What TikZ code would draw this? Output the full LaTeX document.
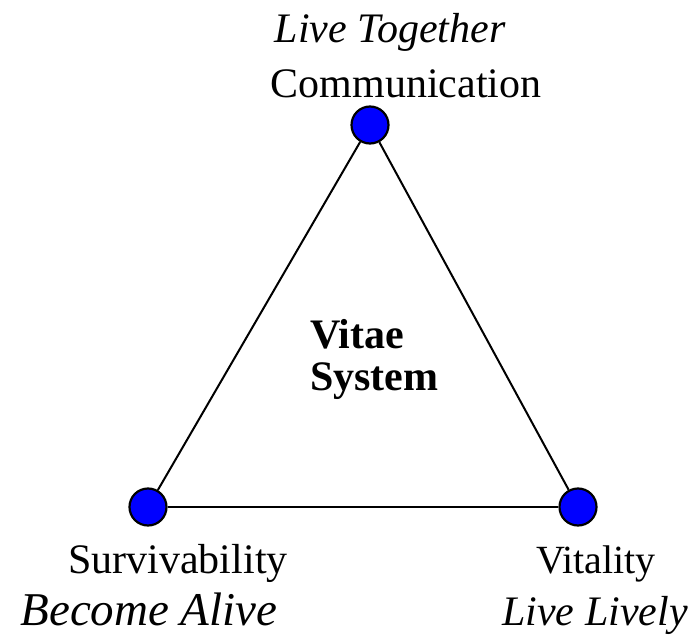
\documentclass[tikz,border=0pt]{standalone}
\usepackage{fontspec}
\setmainfont{Liberation Serif}
\definecolor{dotblue}{RGB}{0,0,255}
\begin{document}
\begin{tikzpicture}[x=1pt,y=-1pt,
  vertex/.style={circle,draw=black,fill=dotblue,line width=2.2pt,minimum size=37pt,inner sep=0pt},
  edge/.style={line width=2pt},
  lbl/.style={anchor=base,inner sep=0pt}]
\useasboundingbox (0,0) rectangle (693,636);
\node[vertex] (top) at (370,125) {};
\node[vertex] (bl) at (148,507) {};
\node[vertex] (br) at (578,507) {};
\draw[edge] (top) -- (bl);
\draw[edge] (top) -- (br);
\draw[edge] (bl) -- (br);
\node[lbl] (lt) at (390,43) {\fontsize{42}{48}\selectfont\itshape Live Together};
\node[lbl] (comm) at (406,98) {\fontsize{42}{48}\selectfont Communication};
\node[lbl,anchor=base west] (vitae) at (310,348) {\fontsize{42}{48}\selectfont\bfseries Vitae};
\node[lbl,anchor=base west] (system) at (310,390) {\fontsize{42}{48}\selectfont\bfseries System};
\node[lbl] (surv) at (178,573) {\fontsize{42}{48}\selectfont Survivability};
\node[lbl] (become) at (149,625) {\fontsize{47}{52}\selectfont\itshape Become Alive};
\node[lbl] (vital) at (596,573) {\fontsize{40}{46}\selectfont Vitality};
\node[lbl] (lively) at (595,625) {\fontsize{42}{48}\selectfont\itshape Live Lively};
\end{tikzpicture}
\end{document}
